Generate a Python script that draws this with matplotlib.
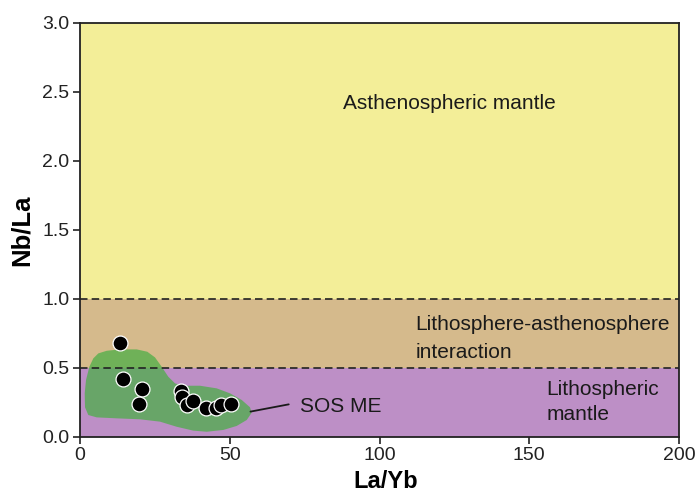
import matplotlib
matplotlib.use("Agg")
import matplotlib.pyplot as plt
from matplotlib.patches import Polygon

plt.rcParams['font.family'] = ['Liberation Sans', 'DejaVu Sans']

# Sample ratios (La/Yb vs Nb/La)
la_yb = [13.4, 14.2, 20.7, 19.7, 33.6, 34.0, 35.6, 37.6, 42.0, 45.4, 47.2, 50.3]
nb_la = [0.68, 0.42, 0.345, 0.24, 0.33, 0.29, 0.23, 0.26, 0.21, 0.21, 0.23, 0.24]

# Outline of the SOS ME field
field_x = [4.44, 6.11, 8.91, 13.36, 18.93, 22.47, 25.04, 27.28, 29.48, 31.72, 34.49,
           40.07, 45.64, 50.08, 53.99, 56.76, 57.33, 55.66, 52.32, 47.85, 42.30, 37.83,
           32.29, 26.71, 20.03, 12.25, 5.58, 2.77, 1.67, 1.57, 2.00, 3.11]
field_y = [0.569, 0.605, 0.624, 0.634, 0.634, 0.617, 0.576, 0.508, 0.436, 0.388, 0.371,
           0.371, 0.352, 0.316, 0.268, 0.215, 0.176, 0.123, 0.080, 0.051, 0.038, 0.046,
           0.074, 0.111, 0.128, 0.135, 0.142, 0.159, 0.215, 0.316, 0.412, 0.508]

# Mantle source domains (Nb/La bounds)
zone_bounds = [(1.0, 3.0), (0.5, 1.0), (0.0, 0.5)]
zone_colors = ['#F3EE98', '#D5BA8C', '#BD8FC6']
boundaries = [0.5, 1.0]

x_ticks = [0, 50, 100, 150, 200]
y_ticks = [0.0, 0.5, 1.0, 1.5, 2.0, 2.5, 3.0]

fig = plt.figure(figsize=(6.97, 4.98), dpi=100)
ax = fig.add_axes([0.1148, 0.1225, 0.8594, 0.8323])

for (lo, hi), c in zip(zone_bounds, zone_colors):
    ax.axhspan(lo, hi, color=c, lw=0, zorder=0)

for b in boundaries:
    ax.axhline(b, color='#222222', lw=1.2, dashes=(4.5, 2.5), zorder=2)

ax.add_patch(Polygon(list(zip(field_x, field_y)), closed=True, facecolor='#48AE44',
                     alpha=0.72, edgecolor='none', joinstyle='round', zorder=1))

ax.scatter(la_yb, nb_la, s=115, c='black', edgecolors='white', linewidths=0.9, zorder=4)

ax.annotate('', xy=(56.0, 0.18), xytext=(70.6, 0.24),
            arrowprops=dict(arrowstyle='-', color='#1a1a1a', lw=1.3), zorder=5)
ax.text(73.5, 0.183, 'SOS ME', fontsize=15, va='baseline', ha='left', color='#1a1a1a')

ax.text(87.7, 2.372, 'Asthenospheric mantle', fontsize=15, va='baseline', ha='left', color='#1a1a1a')
ax.text(111.9, 0.774, 'Lithosphere-asthenosphere', fontsize=15, va='baseline', ha='left', color='#1a1a1a')
ax.text(111.9, 0.571, 'interaction', fontsize=15, va='baseline', ha='left', color='#1a1a1a')
ax.text(155.8, 0.304, 'Lithospheric', fontsize=15, va='baseline', ha='left', color='#1a1a1a')
ax.text(155.8, 0.123, 'mantle', fontsize=15, va='baseline', ha='left', color='#1a1a1a')

ax.set_xlim(0, 200)
ax.set_ylim(0, 3.0)
ax.set_xticks(x_ticks)
ax.set_yticks(y_ticks)
ax.set_xticklabels([str(v) for v in x_ticks])
ax.set_yticklabels([f'{v:.1f}' for v in y_ticks])
ax.tick_params(direction='out', length=5, width=1.2, labelsize=14, colors='#222222', pad=2.5)
ax.tick_params(top=False, right=False)
for s in ax.spines.values():
    s.set_linewidth(1.3)
    s.set_color('#222222')

ax.set_xlabel('La/Yb', fontsize=17, fontweight='bold')
ax.set_ylabel('Nb/La', fontsize=18.5, fontweight='bold')
ax.xaxis.set_label_coords(0.51, -0.08)
ax.yaxis.set_label_coords(-0.078, 0.5)

fig.savefig('out.png', dpi=100)
